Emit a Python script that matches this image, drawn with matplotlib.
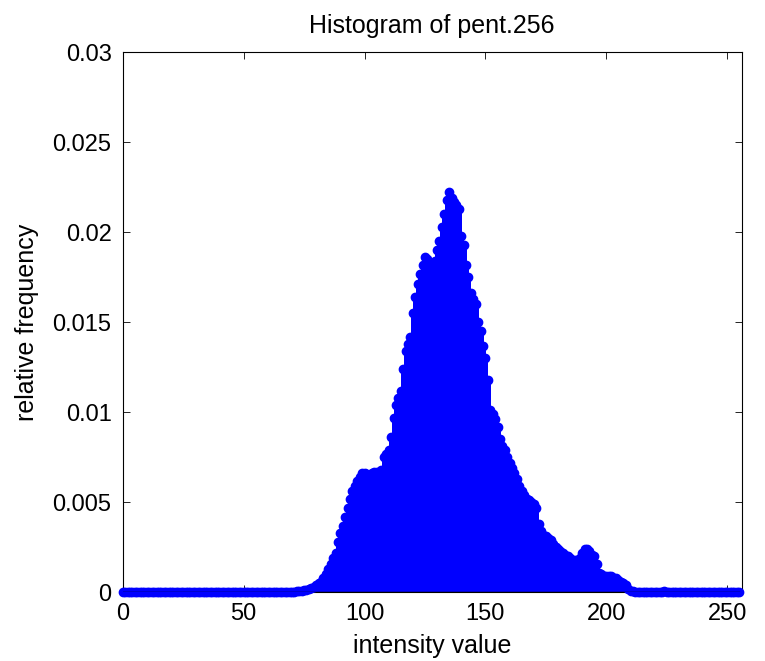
import matplotlib
matplotlib.use('Agg')
import matplotlib.pyplot as plt
import numpy as np

plt.rcParams['font.family'] = ['Liberation Sans', 'DejaVu Sans']

# intensity bins 0..255
intensity = np.arange(256)

# relative frequency, bins 70..211 (rest is ~0)
rise = [0.00002, 0.00004, 0.00006, 0.00008, 0.0001, 0.00012, 0.00015, 0.0002,
        0.00025, 0.0003, 0.0004, 0.0005, 0.0006, 0.0008, 0.0010, 0.0013,
        0.0016, 0.0019, 0.0022, 0.0028, 0.0033, 0.0037, 0.0042, 0.0047,
        0.0052, 0.0056, 0.0059, 0.0062, 0.0064, 0.0066, 0.0066, 0.0065,
        0.0064, 0.0066, 0.0067, 0.0067, 0.0066, 0.0068, 0.0075, 0.0077,
        0.0079, 0.0086, 0.0097, 0.0104, 0.0108, 0.0112, 0.0124, 0.0134,
        0.0138, 0.0142, 0.0155, 0.0164, 0.0171, 0.0177, 0.0182, 0.0186,
        0.0185, 0.0183, 0.0181, 0.0184, 0.0190, 0.0195, 0.0203, 0.0210,
        0.0218, 0.0222]                      # bins 70..135
fall = [0.0219, 0.0217, 0.0215, 0.0213, 0.0198, 0.0193, 0.0182, 0.0175,
        0.0166, 0.0163, 0.0160, 0.0150, 0.0145, 0.0137, 0.0130, 0.0118,
        0.0101, 0.0099, 0.0096, 0.0092, 0.0085, 0.0081, 0.0079, 0.0075,
        0.0072, 0.0069, 0.0066, 0.0063, 0.0059, 0.0056, 0.0054, 0.0052,
        0.0051, 0.0050, 0.0049, 0.0047, 0.0038, 0.0034, 0.0032, 0.0031,
        0.0030, 0.0029, 0.0027, 0.0025, 0.0024, 0.0023, 0.0022, 0.0021,
        0.0020, 0.0019, 0.0018, 0.0018, 0.0018, 0.0019, 0.0022, 0.0024,
        0.0024, 0.0023, 0.0021, 0.0020, 0.0016, 0.0011, 0.0010, 0.0009,
        0.0009, 0.0009, 0.0009, 0.0008, 0.0008, 0.0007, 0.0006, 0.0005,
        0.0004, 0.0002, 0.0001, 0.00005]     # bins 136..211

freq = np.zeros(256)
freq[70:136] = rise
freq[136:212] = fall
freq[224] = 0.00005

fig = plt.figure(figsize=(7.65, 6.61), dpi=100)
ax = fig.add_axes([0.1604, 0.1039, 0.8092, 0.8174])

markerline, stemlines, baseline = ax.stem(intensity, freq, linefmt='-', markerfmt='o', basefmt='k-')
plt.setp(stemlines, color='#0000ff', linewidth=2.4, capstyle='butt', antialiased=False)
plt.setp(markerline, color='#0000ff', markersize=6.0, clip_on=False, zorder=3)
plt.setp(baseline, color='k', linewidth=1.0, zorder=4)

ax.set_xlim(0, 256)
ax.set_ylim(0, 0.03)
ax.set_xticks([0, 50, 100, 150, 200, 250])
ax.set_yticks([0, 0.005, 0.01, 0.015, 0.02, 0.025, 0.03])
ax.set_yticklabels(['0', '0.005', '0.01', '0.015', '0.02', '0.025', '0.03'])
ax.tick_params(direction='in', length=5, width=0.6, top=True, right=True, labelsize=17, pad=8)
for s in ax.spines.values():
    s.set_linewidth(0.8)

ax.set_title('Histogram of pent.256', fontsize=18, pad=14)
ax.set_xlabel('intensity value', fontsize=18, labelpad=6)
ax.set_ylabel('relative frequency', fontsize=18, labelpad=10)

fig.savefig('out.png', dpi=100)
